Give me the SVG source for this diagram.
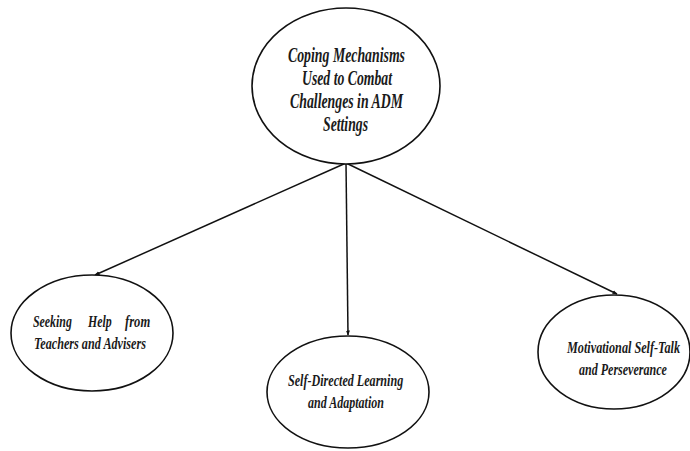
<svg xmlns="http://www.w3.org/2000/svg" width="690" height="451" viewBox="0 0 690 451">
<defs>
<marker id="arr" viewBox="0 0 10 10" refX="9" refY="5" markerWidth="5" markerHeight="5" orient="auto" markerUnits="userSpaceOnUse">
<path d="M0,1 L10,5 L0,9 z" fill="#111"/>
</marker>
</defs>
<style>
.node ellipse{fill:#fff;stroke:#111;stroke-width:1.6}
.t{font-family:"Liberation Serif","Times New Roman",serif;font-style:italic;font-weight:bold;fill:#1a1a1a}
.big{font-size:20px}
.sm{font-size:17px}
.conn line{stroke:#111;stroke-width:1.5;marker-end:url(#arr)}
</style>
<rect width="690" height="451" fill="#fff"/>
<g class="conn">
<line x1="346" y1="163" x2="95" y2="275"/>
<line x1="346" y1="163" x2="348" y2="335"/>
<line x1="346" y1="163" x2="617" y2="294"/>
</g>
<g id="root" class="node">
<ellipse cx="346" cy="86" rx="94" ry="78"/>
<text class="t big" transform="translate(288,62) scale(0.72,1)" textLength="162.5" lengthAdjust="spacingAndGlyphs">Coping Mechanisms</text>
<text class="t big" transform="translate(302,85) scale(0.72,1)" textLength="125" lengthAdjust="spacingAndGlyphs">Used to Combat</text>
<text class="t big" transform="translate(290,108) scale(0.72,1)" textLength="157" lengthAdjust="spacingAndGlyphs">Challenges in ADM</text>
<text class="t big" transform="translate(323,131) scale(0.72,1)" textLength="62.5" lengthAdjust="spacingAndGlyphs">Settings</text>
</g>
<g id="seeking" class="node">
<ellipse cx="92" cy="333" rx="81" ry="58"/>
<text class="t sm" transform="translate(33,327) scale(0.72,1)" textLength="54" lengthAdjust="spacingAndGlyphs">Seeking</text>
<text class="t sm" transform="translate(88,327) scale(0.72,1)" textLength="33" lengthAdjust="spacingAndGlyphs">Help</text>
<text class="t sm" transform="translate(125,327) scale(0.72,1)" textLength="35" lengthAdjust="spacingAndGlyphs">from</text>
<text class="t sm" transform="translate(34,349) scale(0.72,1)" textLength="155.5" lengthAdjust="spacingAndGlyphs">Teachers and Advisers</text>
</g>
<g id="selfdirected" class="node">
<ellipse cx="348" cy="392" rx="81" ry="56"/>
<text class="t sm" transform="translate(288,386) scale(0.72,1)" textLength="160" lengthAdjust="spacingAndGlyphs">Self-Directed Learning</text>
<text class="t sm" transform="translate(308,408) scale(0.72,1)" textLength="105.5" lengthAdjust="spacingAndGlyphs">and Adaptation</text>
</g>
<g id="motivational" class="node">
<ellipse cx="614" cy="352" rx="76" ry="57"/>
<text class="t sm" transform="translate(567,353) scale(0.72,1)" textLength="157" lengthAdjust="spacingAndGlyphs">Motivational Self-Talk</text>
<text class="t sm" transform="translate(579,375) scale(0.72,1)" textLength="122" lengthAdjust="spacingAndGlyphs">and Perseverance</text>
</g>
</svg>
